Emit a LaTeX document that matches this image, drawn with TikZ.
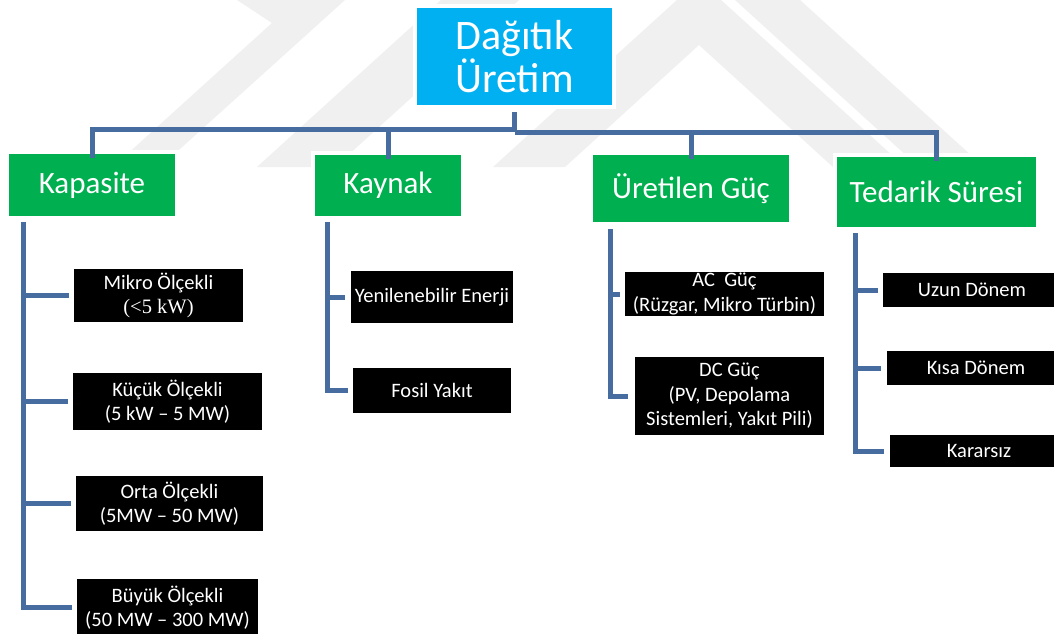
\documentclass[tikz,border=0pt]{standalone}
\usepackage{fontspec}
\setmainfont{Carlito}
\newfontfamily\timesf{Liberation Serif}
\definecolor{rootblue}{RGB}{0,176,240}
\definecolor{catgreen}{RGB}{0,176,80}
\definecolor{linkblue}{RGB}{70,108,160}
\definecolor{wmgrey}{RGB}{240,240,240}
\begin{document}
\begin{tikzpicture}[x=1pt,y=-1pt,
  conn/.style={draw=linkblue, line width=5pt, line join=miter},
  halo/.style={preaction={draw=white, line width=8pt}},
  rootbox/.style={halo, fill=rootblue, text=white, align=center, inner sep=0pt,
    font=\fontsize{42}{43}\selectfont},
  catbox/.style={halo, fill=catgreen, text=white, inner sep=0pt,
    font=\fontsize{31}{36}\selectfont},
  leafbox/.style={fill=black, text=white, align=center, inner sep=0pt,
    font=\fontsize{20.5}{24.5}\selectfont},
  wm/.style={fill=wmgrey, draw=none}]
\useasboundingbox (0,0) rectangle (1054,634);
\fill[white] (0,0) rectangle (1054,634);

% faint background emblem
\fill[wm] (237,0) -- (345,0) -- (160,167) -- (113,167) -- (272,23) -- cycle;
\fill[wm] (441,0) -- (519,0) -- (335,167) -- (257,167) -- cycle;
\fill[wm] (493,167) -- (699,-20) -- (905,167) -- (833,167) -- (699,45) -- (565,167) -- cycle;
\fill[wm] (735,0) -- (800,0) -- (984,167) -- (919,167) -- cycle;

% root and categories
\node[rootbox, minimum width=195pt, minimum height=97pt] (root) at (514.5,56.5) {Dağıtık\\Üretim};
\node[catbox, minimum width=166pt, minimum height=62pt] (kap) at (92,185) {Kapasite};
\node[catbox, minimum width=146pt, minimum height=61pt] (kay) at (388,185.5) {Kaynak};
\node[catbox, minimum width=196pt, minimum height=67pt] (ure) at (691,188.5) {Üretilen Güç};
\node[catbox, minimum width=199pt, minimum height=70pt] (ted) at (936.5,192) {Tedarik Süresi};

% leaves: capacity
\node[leafbox, minimum width=169pt, minimum height=53pt] (mikro) at (158.5,295.5) {Mikro Ölçekli\\{\timesf(<5 kW)}};
\node[leafbox, minimum width=189pt, minimum height=57pt] (kucuk) at (167.5,401.5) {Küçük Ölçekli\\(5 kW – 5 MW)};
\node[leafbox, minimum width=187pt, minimum height=55pt] (orta) at (169.5,503.5) {Orta Ölçekli\\(5MW – 50 MW)};
\node[leafbox, minimum width=181pt, minimum height=57pt] (buyuk) at (167.5,607.5) {Büyük Ölçekli\\(50 MW – 300 MW)};

% leaves: source
\node[leafbox, minimum width=162pt, minimum height=52pt] (yen) at (432,297) {Yenilenebilir Enerji};
\node[leafbox, minimum width=158pt, minimum height=45pt] (fos) at (432,390) {Fosil Yakıt};

% leaves: generated power
\node[leafbox, minimum width=199pt, minimum height=44pt] (ac) at (724.5,294) {AC\ \ Güç\\(Rüzgar, Mikro Türbin)};
\node[leafbox, minimum width=189pt, minimum height=78pt] (dc) at (729.5,396) {DC Güç\\(PV, Depolama\\Sistemleri, Yakıt Pili)};

% leaves: lead time
\node[leafbox, minimum width=178pt, minimum height=34pt] (uzun) at (972,290) {Uzun Dönem};
\node[leafbox, minimum width=178pt, minimum height=34pt] (kisa) at (976,368) {Kısa Dönem};
\node[leafbox, minimum width=178pt, minimum height=32pt] (karar) at (979,451) {Kararsız};

% top-level bus
\draw[conn] ([yshift=-7pt]root.south) -- (root.south |- 0,129) -| ([yshift=-4pt]kap.north);
\draw[conn] (root.south |- 0,129) -| ([yshift=-4pt]kay.north);
\draw[conn] (root.south |- 0,132) -| ([yshift=-4pt]ure.north);
\draw[conn] (root.south |- 0,132) -| ([yshift=-4pt]ted.north);

% capacity branch
\coordinate (kapv) at (23,222);
\draw[conn] (kapv) |- ([xshift=-5pt]buyuk.west);
\draw[conn] (kapv |- mikro.west) -- ([xshift=-5pt]mikro.west);
\draw[conn] (kapv |- kucuk.west) -- ([xshift=-5pt]kucuk.west);
\draw[conn] (kapv |- orta.west) -- ([xshift=-5pt]orta.west);

% source branch
\coordinate (kayv) at (327,222);
\draw[conn] (kayv) |- ([xshift=-5pt]fos.west);
\draw[conn] (kayv |- yen.west) -- ([xshift=-6pt]yen.west);

% generated power branch
\coordinate (urev) at (610,229);
\draw[conn] (urev) |- ([xshift=-7pt]dc.west);
\draw[conn] (urev |- ac.west) -- ([xshift=-5pt]ac.west);

% lead time branch
\coordinate (tedv) at (855,233);
\draw[conn] (tedv) |- ([xshift=-6pt]karar.west);
\draw[conn] (tedv |- uzun.west) -- ([xshift=-5pt]uzun.west);
\draw[conn] (tedv |- kisa.west) -- ([xshift=-6pt]kisa.west);
\end{tikzpicture}
\end{document}
